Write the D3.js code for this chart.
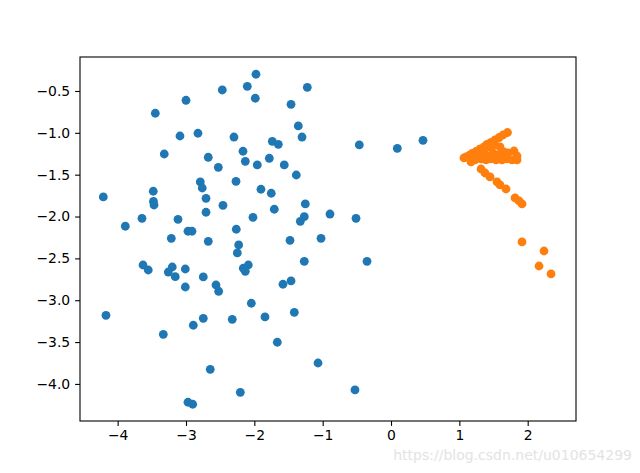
<!DOCTYPE html>
<html>
<head>
<meta charset="utf-8">
<script src="https://cdn.jsdelivr.net/npm/d3@7"></script>
<style>
  body { margin: 0; background: #fff; }
  svg text { font-family: "DejaVu Sans", sans-serif; }
</style>
</head>
<body>
<svg id="vis"></svg>
<script>
const width = 640;
const height = 473;
const margin = { top: 57, bottom: 52, left: 80, right: 64 };

// class 0 (blue)
const blueX = [-1.976, -2.469, -2.103, -3.000, -1.986, -3.449, -3.088, -2.825, -2.298, -3.318,
  -2.166, -2.674, -2.132, -1.957, -2.527, -2.791, -2.268, -1.225, -1.463, -1.357,
  -1.302, -1.737, -1.649, -0.464, 0.092, 0.468, -1.781, -1.562, -1.386, -2.762,
  -1.903, -4.210, -3.479, -2.707, -3.476, -3.468, -2.459, -2.707, -3.644, -3.888,
  -3.117, -2.020, -2.971, -2.912, -2.264, -3.215, -2.674, -2.229, -2.249, -3.629,
  -3.552, -3.201, -3.259, -3.157, -3.010, -2.747, -2.088, -2.162, -2.132, -2.561,
  -2.522, -3.010, -2.044, -1.752, -1.254, -1.708, -1.269, -1.327, -0.893, -0.512,
  -1.478, -1.024, -1.269, -0.351, -1.581, -1.463, -4.171, -3.332, -2.893, -2.747,
  -2.323, -2.645, -2.205, -2.971, -2.902, -1.844, -1.415, -1.664, -1.068, -0.527];
const blueY = [-0.30, -0.488, -0.444, -0.611, -0.587, -0.766, -1.038, -1.005, -1.050, -1.253,
  -1.220, -1.292, -1.340, -1.384, -1.412, -1.587, -1.579, -0.456, -0.659, -0.918,
  -1.050, -1.101, -1.137, -1.145, -1.185, -1.089, -1.304, -1.384, -1.504, -1.659,
  -1.674, -1.766, -1.698, -1.782, -1.820, -1.862, -1.866, -1.949, -2.021, -2.116,
  -2.033, -2.009, -2.176, -2.176, -2.152, -2.260, -2.296, -2.340, -2.435, -2.579,
  -2.639, -2.603, -2.663, -2.719, -2.627, -2.722, -2.579, -2.618, -2.654, -2.818,
  -2.893, -2.842, -3.036, -1.722, -1.850, -1.913, -2.002, -2.057, -1.970, -2.021,
  -2.284, -2.260, -2.535, -2.535, -2.809, -2.770, -3.180, -3.407, -3.299, -3.216,
  -3.228, -3.825, -4.100, -4.219, -4.243, -3.200, -3.144, -3.502, -3.750, -4.072];

// class 1 (orange)
const orangeX = [1.705, 1.639, 1.581, 1.522, 1.463, 1.405, 1.361, 1.303, 1.244, 1.185,
  1.142, 1.098, 1.068, 1.434, 1.507, 1.346, 1.273, 1.390, 1.171, 1.229,
  1.595, 1.654, 1.712, 1.800, 1.844, 1.844, 1.771, 1.698, 1.624, 1.537,
  1.463, 1.390, 1.317, 1.244, 1.493, 1.566, 1.317, 1.376, 1.449, 1.551,
  1.595, 1.683, 1.815, 1.873, 1.917, 1.917, 2.239, 2.166, 2.342];
const orangeY = [-0.996, -1.026, -1.056, -1.085, -1.115, -1.139, -1.169, -1.193, -1.223, -1.247,
  -1.271, -1.289, -1.300, -1.169, -1.145, -1.229, -1.265, -1.265, -1.348, -1.324,
  -1.169, -1.229, -1.241, -1.217, -1.277, -1.324, -1.324, -1.312, -1.324, -1.324,
  -1.312, -1.324, -1.312, -1.300, -1.241, -1.265, -1.432, -1.480, -1.527, -1.587,
  -1.623, -1.671, -1.778, -1.814, -1.850, -2.304, -2.412, -2.591, -2.686];

const xTicks = [-4, -3, -2, -1, 0, 1, 2];
const yTicks = [-4.0, -3.5, -3.0, -2.5, -2.0, -1.5, -1.0, -0.5];

const svg = d3.select("svg#vis")
  .attr("width", width)
  .attr("height", height);

const w = width - margin.left - margin.right;
const h = height - margin.top - margin.bottom;

const plot = svg.append("g").attr("transform", translate(margin.left, margin.top));

const x = d3.scaleLinear().domain([-4.551, 2.707]).range([0, w]);
const y = d3.scaleLinear().domain([-4.443, -0.094]).range([h, 0]);

const minus = s => s.replace("-", "\u2212");

const xAxis = plot.append("g")
  .attr("transform", translate(0, h))
  .call(d3.axisBottom(x).tickValues(xTicks).tickSizeOuter(0).tickSize(4.9).tickPadding(4.2)
    .tickFormat(d => minus(d3.format("d")(d))));

const yAxis = plot.append("g")
  .call(d3.axisLeft(y).tickValues(yTicks).tickSizeOuter(0).tickSize(4.9).tickPadding(4.9)
    .tickFormat(d => minus(d3.format(".1f")(d))));

[xAxis, yAxis].forEach(a => {
  a.select(".domain").remove();
  a.selectAll("line").attr("stroke", "#000").attr("stroke-width", 1.1);
  a.selectAll("text").attr("fill", "#000").style("font-size", "13.9px");
});

const blue = blueX.map((v, i) => [v, blueY[i]]);
const orange = orangeX.map((v, i) => [v, orangeY[i]]);

plot.append("g").selectAll("circle")
  .data(blue)
  .enter()
  .append("circle")
  .attr("cx", d => x(d[0]))
  .attr("cy", d => y(d[1]))
  .attr("r", 4.4)
  .style("fill", "#1f77b4");

plot.append("g").selectAll("circle")
  .data(orange)
  .enter()
  .append("circle")
  .attr("cx", d => x(d[0]))
  .attr("cy", d => y(d[1]))
  .attr("r", 4.4)
  .style("fill", "#ff7f0e");

// frame
plot.append("rect")
  .attr("width", w)
  .attr("height", h)
  .style("fill", "none")
  .style("stroke", "#000")
  .style("stroke-width", 1.1);

svg.append("text")
  .attr("x", 632)
  .attr("y", 460)
  .attr("text-anchor", "end")
  .style("font-size", "14px")
  .style("fill", "#e3e3e3")
  .text("https://blog.csdn.net/u010654299");

function translate(x, y) {
  return "translate(" + String(x) + "," + String(y) + ")";
}
</script>
</body>
</html>
